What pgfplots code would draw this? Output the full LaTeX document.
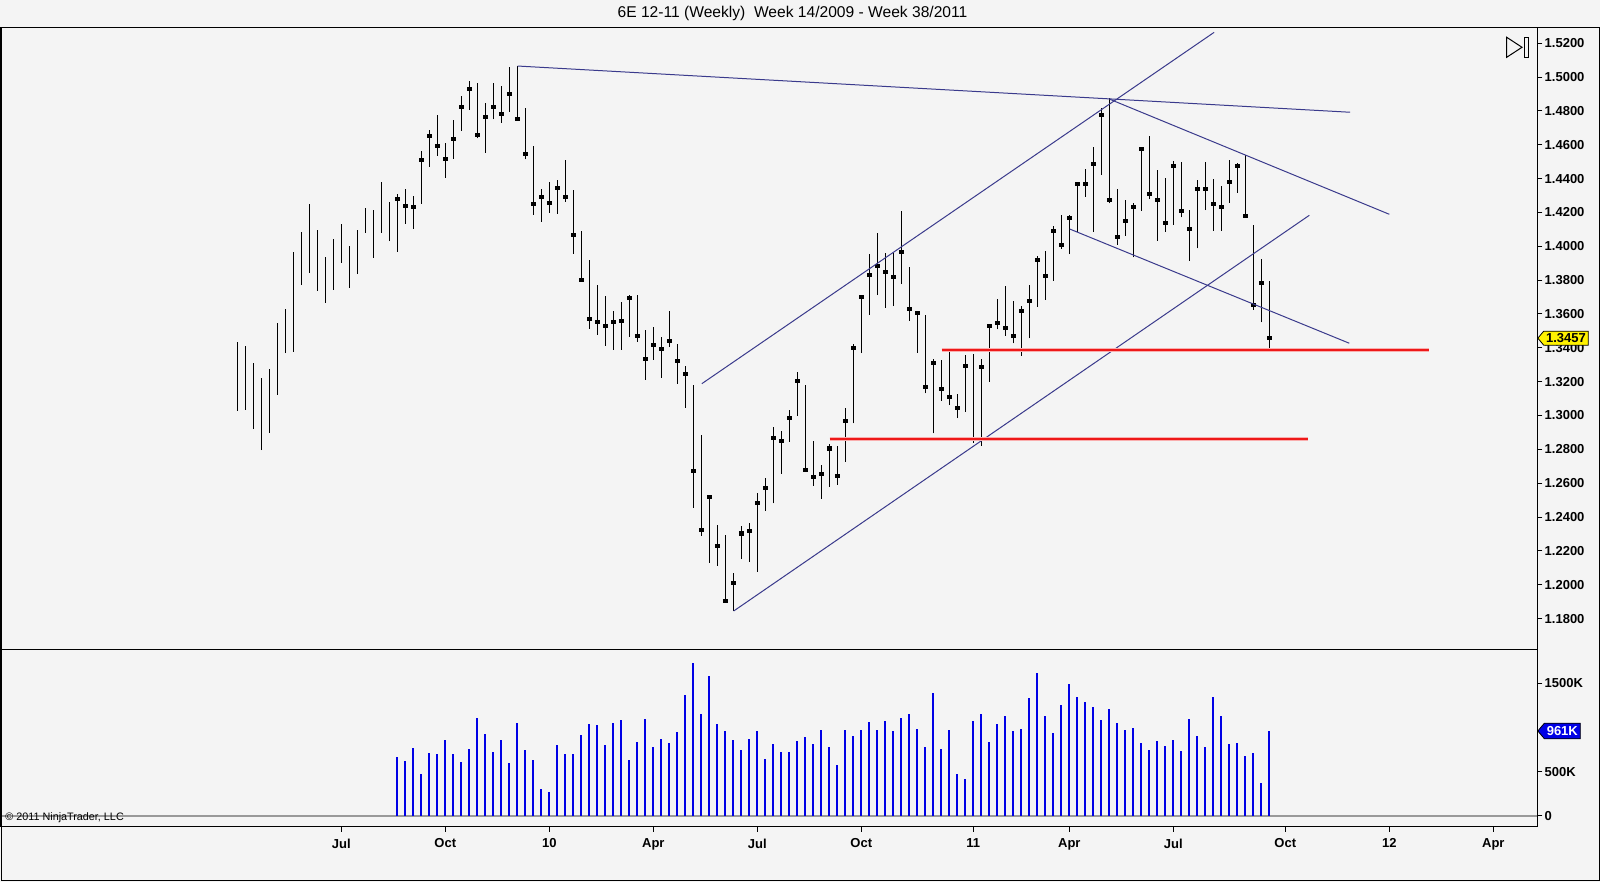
\documentclass[border=0pt]{standalone}
\usepackage{fontspec}
\setmainfont{Liberation Sans}
\usepackage{pgfplots}
\usepackage{pgfplotstable}
\pgfplotsset{compat=1.18}
\usetikzlibrary{shapes.symbols}
\definecolor{bgc}{RGB}{244,244,244}
\definecolor{trend}{RGB}{58,58,140}
\definecolor{volblue}{RGB}{0,0,230}
\definecolor{srred}{RGB}{238,24,24}

% weekly OHLC (x = week index, 0 = week 14/2009); c = close
\pgfplotstableread{
i l h c
0 1.3029 1.3436 nan
1 1.3033 1.3413 nan
2 1.2920 1.3309 nan
3 1.2796 1.3220 nan
4 1.2899 1.3277 nan
5 1.3123 1.3549 nan
6 1.3368 1.3628 nan
7 1.3377 1.3968 nan
8 1.3771 1.4086 nan
9 1.3844 1.4250 nan
10 1.3738 1.4096 nan
11 1.3667 1.3938 nan
12 1.3742 1.4043 nan
13 1.3903 1.4132 nan
14 1.3755 1.4003 nan
15 1.3836 1.4096 nan
16 1.4080 1.4228 nan
17 1.3933 1.4214 nan
18 1.4080 1.4382 nan
19 1.4031 1.4263 nan
20 1.3968 1.4307 1.4282
21 1.4133 1.4339 1.4240
22 1.4104 1.4297 1.4234
23 1.4252 1.4563 1.4512
24 1.4470 1.4687 1.4653
25 1.4535 1.4776 1.4594
26 1.4405 1.4612 1.4518
27 1.4518 1.4746 1.4636
28 1.4683 1.4888 1.4825
29 1.4807 1.4978 1.4931
30 1.4638 1.4965 1.4658
31 1.4553 1.4847 1.4766
32 1.4750 1.4965 1.4825
33 1.4730 1.4947 1.4783
34 1.4795 1.5062 1.4902
35 1.4742 1.5068 1.4754
36 1.4514 1.4815 1.4545
37 1.4185 1.4593 1.4252
38 1.4145 1.4339 1.4293
39 1.4199 1.4382 1.4258
40 1.4193 1.4392 1.4346
41 1.4263 1.4510 1.4293
42 1.3957 1.4333 1.4067
43 1.3801 1.4090 1.3803
44 1.3513 1.3919 1.3572
45 1.3478 1.3771 1.3554
46 1.3413 1.3706 1.3531
47 1.3389 1.3618 1.3554
48 1.3389 1.3671 1.3560
49 1.3466 1.3712 1.3696
50 1.3436 1.3712 1.3472
51 1.3212 1.3505 1.3336
52 1.3330 1.3523 1.3419
53 1.3224 1.3466 1.3395
54 1.3407 1.3618 1.3442
55 1.3188 1.3423 1.3324
56 1.3046 1.3293 1.3247
57 1.2455 1.3180 1.2674
58 1.2290 1.2885 1.2325
59 1.2130 1.2530 1.2520
60 1.2113 1.2353 1.2231
61 1.1900 1.2294 1.1906
62 1.1845 1.2068 1.2012
63 1.2151 1.2347 1.2304
64 1.2136 1.2367 1.2319
65 1.2077 1.2544 1.2485
66 1.2438 1.2633 1.2574
67 1.2481 1.2934 1.2869
68 1.2655 1.2910 1.2851
69 1.2845 1.3033 1.2987
70 1.2999 1.3259 1.3206
71 1.2668 1.3180 1.2680
72 1.2585 1.2851 1.2639
73 1.2509 1.2708 1.2656
74 1.2579 1.2832 1.2806
75 1.2590 1.2820 1.2643
76 1.2727 1.3043 1.2969
77 1.2954 1.3421 1.3401
78 1.3368 1.3712 1.3702
79 1.3594 1.3954 1.3830
80 1.3712 1.4080 1.3885
81 1.3637 1.3959 1.3850
82 1.3647 1.3962 1.3820
83 1.3777 1.4210 1.3968
84 1.3560 1.3879 1.3628
85 1.3371 1.3609 1.3604
86 1.3131 1.3594 1.3170
87 1.2895 1.3332 1.3312
88 1.3088 1.3328 1.3159
89 1.3062 1.3383 1.3111
90 1.2984 1.3127 1.3046
91 1.3023 1.3358 1.3294
92 1.2839 1.3364 1.2861
93 1.2820 1.3332 1.3289
94 1.3200 1.3539 1.3529
95 1.3509 1.3689 1.3549
96 1.3470 1.3765 1.3519
97 1.3427 1.3678 1.3472
98 1.3352 1.3647 1.3619
99 1.3456 1.3771 1.3678
100 1.3643 1.3943 1.3919
101 1.3683 1.3972 1.3826
102 1.3797 1.4120 1.4092
103 1.3984 1.4185 1.4009
104 1.3953 1.4185 1.4169
105 1.4086 1.4372 1.4370
106 1.4293 1.4455 1.4370
107 1.4086 1.4588 1.4488
108 1.4421 1.4815 1.4778
109 1.4254 1.4874 1.4275
110 1.4008 1.4340 1.4057
111 1.4063 1.4274 1.4151
112 1.3935 1.4254 1.4234
113 1.4210 1.4588 1.4577
114 1.4278 1.4652 1.4311
115 1.4033 1.4451 1.4275
116 1.4086 1.4405 1.4139
117 1.4126 1.4506 1.4476
118 1.4171 1.4500 1.4210
119 1.3915 1.4214 1.4104
120 1.3988 1.4392 1.4340
121 1.4214 1.4500 1.4340
122 1.4092 1.4398 1.4252
123 1.4092 1.4356 1.4234
124 1.4258 1.4510 1.4382
125 1.4317 1.4490 1.4476
126 1.4181 1.4539 1.4181
127 1.3624 1.4126 1.3653
128 1.3551 1.3925 1.3785
129 1.3377 1.3795 1.3457
}\ohlc

% weekly volume in thousands
\pgfplotstableread{
i v
20 670
21 622
22 772
23 475
24 712
25 701
26 863
27 701
28 610
29 761
30 1108
31 927
32 723
33 863
34 603
35 1055
36 746
37 637
38 305
39 275
40 803
41 701
42 701
43 916
44 1040
45 1029
46 803
47 1051
48 1085
49 637
50 840
51 1096
52 780
53 870
54 825
55 949
56 1368
57 1729
58 1153
59 1582
60 1040
61 961
62 859
63 746
64 870
65 961
66 644
67 814
68 723
69 723
70 848
71 893
72 814
73 972
74 780
75 576
76 972
77 904
78 972
79 1063
80 972
81 1074
82 961
83 1108
84 1153
85 983
86 780
87 1390
88 757
89 972
90 475
91 418
92 1074
93 1153
94 836
95 1040
96 1130
97 961
98 983
99 1334
100 1616
101 1130
102 938
103 1255
104 1492
105 1345
106 1289
107 1232
108 1085
109 1209
110 1051
111 972
112 995
113 825
114 746
115 848
116 791
117 859
118 735
119 1096
120 904
121 780
122 1345
123 1130
124 814
125 825
126 678
127 712
128 373
129 961
}\vol

\newcommand{\tlfont}{\bfseries\fontsize{6.5}{7.5}\selectfont}

\begin{document}
\begin{tikzpicture}
\useasboundingbox (0pt,0pt) rectangle (800pt,441pt);
\fill[bgc] (0pt,0pt) rectangle (800pt,441pt);

% ---------------- price panel ----------------
\begin{axis}[
  at={(0.5pt,116.35pt)}, anchor=south west,
  scale only axis, width=768.15pt, height=311pt,
  xmin=-29.54, xmax=162.5, ymin=1.16187, ymax=1.5294,
  axis line style={line width=0.5pt, black},
  axis background/.style={fill=bgc},
  xtick=\empty,
  ytick={1.18,1.20,1.22,1.24,1.26,1.28,1.30,1.32,1.34,1.36,1.38,1.40,1.42,1.44,1.46,1.48,1.50,1.52},
  ytick pos=right, yticklabel pos=right,
  tick align=outside, major tick length=2.5pt,
  tick style={black, line width=0.5pt},
  yticklabel style={font=\tlfont, inner xsep=1pt,
    /pgf/number format/.cd, fixed, fixed zerofill, precision=4, assume math mode=true},
  clip mode=individual,
]
% OHLC range lines
\addplot[black, line width=0.65pt, quiver={u=0, v=\thisrow{h}-\thisrow{l}}]
  table[x=i, y=l] {\ohlc};
% close marks
\addplot[only marks, mark=square*, mark size=0.8pt, black] table[x=i, y=c] {\ohlc};

% trend lines
\addplot[trend, line width=0.5pt] coordinates {(35.05,1.5065) (139.09,1.4792)};
\addplot[trend, line width=0.5pt] coordinates {(58.06,1.3188) (122.1,1.5264)};
\addplot[trend, line width=0.5pt] coordinates {(62.05,1.1845) (134.0,1.4183)};
\addplot[trend, line width=0.5pt] coordinates {(109.05,1.4869) (144.0,1.4189)};
\addplot[trend, line width=0.5pt] coordinates {(104.05,1.4102) (139.0,1.3427)};
% support lines
\addplot[srred!35, line width=1.8pt] coordinates {(88.05,1.3387) (148.96,1.3387)};
\addplot[srred, line width=1pt] coordinates {(88.05,1.3387) (148.96,1.3387)};
\addplot[srred!35, line width=1.8pt] coordinates {(74.05,1.2861) (133.8,1.2861)};
\addplot[srred, line width=1pt] coordinates {(74.05,1.2861) (133.8,1.2861)};

\node[signal, signal to=west, signal pointer angle=100, fill=yellow, draw=black,
  line width=0.4pt, inner xsep=1.2pt, inner ysep=0.6pt, minimum height=7pt,
  font=\tlfont, anchor=west] at (axis cs:162.5,1.3457) {1.3457};
\end{axis}

% ---------------- volume panel ----------------
\begin{axis}[
  at={(0.5pt,27.65pt)}, anchor=south west,
  scale only axis, width=768.15pt, height=88.7pt,
  xmin=-29.54, xmax=162.5, ymin=-120.9, ymax=1884.2,
  axis line style={line width=0.5pt, black},
  axis background/.style={fill=bgc},
  xtick={13,26,39,52,65,78,92,104,117,131,144,157},
  xticklabels={Jul,Oct,10,Apr,Jul,Oct,11,Apr,Jul,Oct,12,Apr},
  xtick pos=bottom,
  ytick={0,500,1500}, yticklabels={0,500K,1500K},
  ytick pos=right, yticklabel pos=right,
  tick align=outside, major tick length=2.5pt,
  tick style={black, line width=0.5pt},
  ticklabel style={font=\tlfont},
  yticklabel style={inner xsep=1pt},
  clip mode=individual,
]
\addplot[black!40, line width=0.6pt] coordinates {(-29.54,0) (162.5,0)};
\addplot[volblue, ycomb, line width=1pt] table[x=i, y=v] {\vol};
\node[signal, signal to=west, signal pointer angle=100, fill=volblue, draw=black,
  line width=0.4pt, inner xsep=1.2pt, inner ysep=0.8pt, minimum height=7.8pt,
  text=white, font=\tlfont, anchor=west] at (axis cs:162.5,961) {961K};
\end{axis}

% frame, title, decorations
\draw[line width=0.5pt] (0.5pt,0.65pt) rectangle (799.5pt,427.35pt);
\node[font=\fontsize{7.8}{9}\selectfont] at (396.25pt,434.35pt)
  {6E 12-11 (Weekly)~~Week 14/2009 - Week 38/2011};
\node[anchor=west, inner sep=0pt, font=\fontsize{5.4}{6}\selectfont] at (2.5pt,32pt)
  {© 2011 NinjaTrader, LLC};
\draw[line width=0.5pt] (753.35pt,422.35pt) -- (753.35pt,412.35pt) -- (761pt,417.35pt) -- cycle;
\draw[line width=0.5pt] (762pt,422.35pt) rectangle (764.1pt,412.35pt);
\end{tikzpicture}
\end{document}
